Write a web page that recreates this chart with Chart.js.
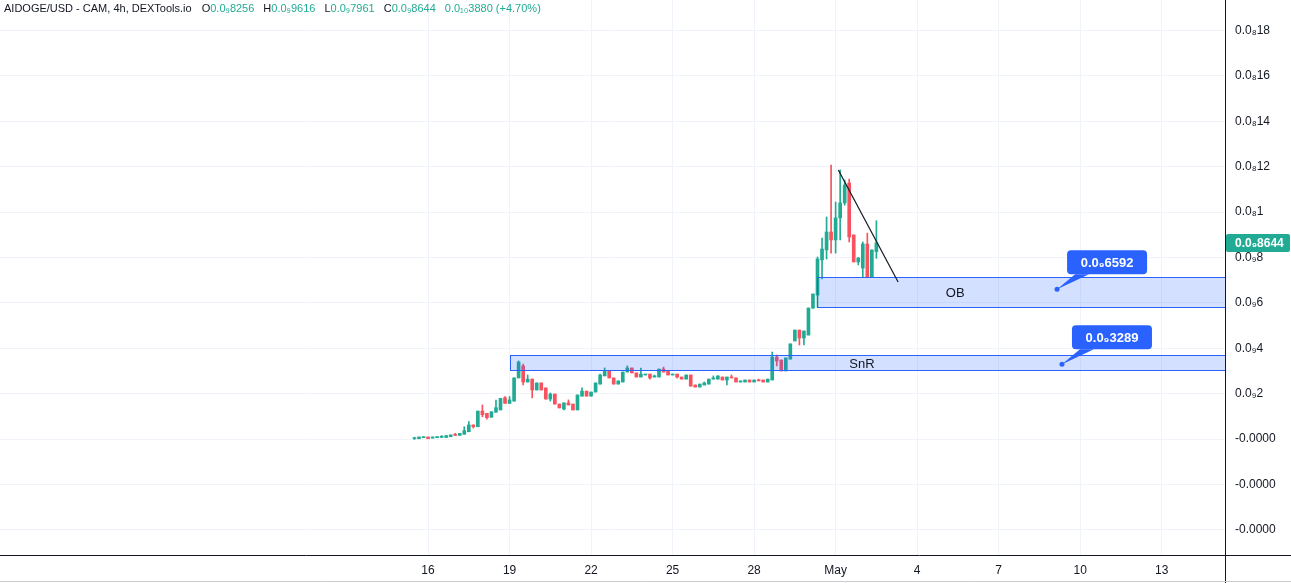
<!DOCTYPE html>
<html>
<head>
<meta charset="utf-8">
<script src="https://cdn.jsdelivr.net/npm/chart.js@4.4.0/dist/chart.umd.min.js"></script>
<style>
  html, body { margin: 0; padding: 0; background: #fff; }
  #wrap { position: relative; width: 1291px; height: 583px; }
  #legend {
    position: absolute; left: 4px; top: 1px;
    font: 11px "Liberation Sans", "DejaVu Sans", sans-serif;
    color: #131722; white-space: nowrap; line-height: 14px;
  }
  #legend .v { color: #22ab94; margin-right: 9px; }
  #legend .name { margin-right: 10px; }
</style>
</head>
<body>
<div id="wrap">
  <canvas id="chart" width="1291" height="583"></canvas>
  <div id="legend"><span class="name">AIDOGE/USD - CAM, 4h, DEXTools.io</span>O<span class="v">0.0₉8256</span>H<span class="v">0.0₉9616</span>L<span class="v">0.0₉7961</span>C<span class="v">0.0₉8644</span><span class="v">0.0₁₀3880 (+4.70%)</span></div>
</div>
<script>
// prices are in units of 1e-10 USD (so 8 = 0.0₉8)
// time axis: days since Apr 1 00:00, 4h candles, first one Apr 15 12:00
const firstCandleDay = 14.5;

const opens = [
  0.00, 0.01, 0.06, 0.09, 0.04, 0.06, 0.07, 0.07, 0.10, 0.21,
  0.16, 0.21, 0.32, 0.62, 0.54, 1.23, 1.13, 0.96, 1.18, 1.28,
  1.82, 1.57, 1.67, 2.69, 3.22, 2.51, 2.64, 2.16, 2.47, 2.25,
  1.76, 1.98, 1.54, 1.32, 1.59, 1.54, 1.28, 1.89, 2.11, 1.89,
  2.07, 2.42, 2.78, 3.00, 2.69, 2.42, 2.51, 2.95, 3.13, 2.91,
  2.73, 2.82, 2.86, 2.73, 2.73, 3.08, 3.00, 2.82, 2.86, 2.73,
  2.64, 2.82, 2.38, 2.29, 2.38, 2.42, 2.64, 2.64, 2.73, 2.60,
  2.73, 2.69, 2.51, 2.51, 2.60, 2.51, 2.60, 2.60, 2.51, 2.60,
  3.61, 3.48, 3.00, 3.52, 4.32, 4.80, 4.45, 4.58, 5.77, 6.34,
  7.89, 8.33, 9.12, 8.77, 9.74, 10.40, 11.28, 8.99, 7.80, 7.53,
  8.59, 7.14, 8.256
];
const highs = [
  0.08, 0.09, 0.09, 0.09, 0.09, 0.10, 0.15, 0.15, 0.18, 0.25,
  0.25, 0.54, 0.77, 0.62, 1.23, 1.50, 1.13, 1.20, 1.72, 1.79,
  1.87, 1.87, 2.69, 3.44, 3.30, 2.82, 2.64, 2.47, 2.47, 2.25,
  2.03, 1.98, 1.54, 1.59, 1.72, 1.54, 1.94, 2.25, 2.11, 2.07,
  2.47, 2.86, 3.13, 3.00, 2.69, 2.56, 2.95, 3.22, 3.13, 2.91,
  3.13, 2.86, 2.86, 2.82, 3.08, 3.17, 3.00, 2.86, 2.86, 2.73,
  2.82, 2.82, 2.38, 2.42, 2.51, 2.64, 2.78, 2.78, 2.73, 2.73,
  2.82, 2.69, 2.56, 2.60, 2.60, 2.60, 2.64, 2.60, 2.64, 3.83,
  3.70, 3.48, 3.57, 4.19, 4.80, 4.80, 4.76, 5.77, 6.39, 8.02,
  8.85, 9.78, 12.07, 10.44, 11.85, 11.41, 11.45, 8.99, 8.00, 8.68,
  9.07, 8.33, 9.616
];
const lows = [
  -0.02, 0.01, 0.06, 0.01, 0.04, 0.06, 0.07, 0.07, 0.10, 0.16,
  0.16, 0.21, 0.32, 0.48, 0.54, 0.98, 0.87, 0.96, 1.18, 1.28,
  1.57, 1.57, 1.67, 2.69, 2.38, 2.51, 1.81, 2.16, 2.16, 1.76,
  1.67, 1.54, 1.37, 1.28, 1.50, 1.28, 1.28, 1.89, 1.89, 1.89,
  2.07, 2.42, 2.78, 2.69, 2.42, 2.42, 2.51, 2.95, 2.91, 2.73,
  2.73, 2.82, 2.64, 2.73, 2.73, 2.95, 2.82, 2.82, 2.69, 2.64,
  2.64, 2.33, 2.29, 2.29, 2.38, 2.42, 2.64, 2.64, 2.60, 2.38,
  2.69, 2.51, 2.51, 2.51, 2.51, 2.51, 2.56, 2.51, 2.51, 2.60,
  3.22, 3.00, 3.00, 3.52, 4.32, 4.14, 4.14, 4.58, 5.75, 5.81,
  7.05, 7.93, 8.19, 8.19, 8.77, 10.30, 8.68, 7.80, 7.67, 7.14,
  7.14, 7.14, 7.961
];
const closes = [
  0.06, 0.09, 0.09, 0.01, 0.09, 0.10, 0.12, 0.15, 0.18, 0.16,
  0.25, 0.37, 0.62, 0.54, 1.23, 1.07, 0.94, 1.20, 1.38, 1.79,
  1.57, 1.72, 2.69, 3.39, 2.51, 2.64, 2.16, 2.47, 2.16, 1.76,
  1.98, 1.54, 1.37, 1.59, 1.50, 1.28, 1.94, 2.11, 1.89, 2.07,
  2.47, 2.82, 3.00, 2.69, 2.42, 2.56, 2.95, 3.13, 2.91, 2.73,
  2.86, 2.86, 2.69, 2.78, 3.08, 2.95, 2.82, 2.86, 2.73, 2.64,
  2.82, 2.33, 2.29, 2.42, 2.47, 2.64, 2.69, 2.78, 2.60, 2.73,
  2.69, 2.51, 2.56, 2.60, 2.51, 2.60, 2.56, 2.51, 2.64, 3.61,
  3.44, 3.00, 3.57, 4.19, 4.80, 4.45, 4.76, 5.77, 6.39, 7.93,
  8.37, 9.12, 8.77, 9.74, 10.40, 11.19, 8.90, 7.80, 7.97, 8.59,
  7.14, 8.33, 8.644
];

// axis ticks
const xTickDays = [15, 18, 21, 24, 27, 30, 33, 36, 39, 42];
const xTickLabels = ['16', '19', '22', '25', '28', 'May', '4', '7', '10', '13'];
const yTickValues = [-4, -2, 0, 2, 4, 6, 8, 10, 12, 14, 16, 18];

// drawings
const zoneNames = ['SnR', 'OB'];
const zoneStartDays = [18.0, 29.33];
const zoneTops = [3.70, 7.14];
const zoneBottoms = [3.04, 5.81];
const zoneLabelDays = [30.97, 34.4];

const calloutDays = [38.15, 38.33];
const calloutPrices = [6.592, 3.289];
const calloutTexts = ['0.0₉6592', '0.0₉3289'];

const trendDays = [30.1, 32.3];
const trendPrices = [11.85, 6.92];

const lastPriceText = '0.0₉8644';

const GREEN = '#22ab94';
const RED = '#f7525f';
const BLUE = '#2962ff';
const FONT = '"Liberation Sans", "DejaVu Sans", sans-serif';

const candleX = opens.map((_, i) => firstCandleDay + i * 4 / 24);
const candleColors = opens.map((o, i) => closes[i] >= o ? GREEN : RED);

function yLabel(v) {
  if (v <= 0) return '-0.0000';
  if (v < 10) return '0.0₉' + v;
  return '0.0₈' + String(v / 10).replace('.', '');
}

const overlay = {
  id: 'overlay',
  afterDatasetsDraw(chart) {
    const { ctx, chartArea: a, scales: { x, y } } = chart;
    ctx.save();
    ctx.beginPath();
    ctx.rect(a.left, a.top, a.right - a.left, a.bottom - a.top);
    ctx.clip();

    // zones
    zoneNames.forEach((name, i) => {
      const x0 = Math.round(x.getPixelForValue(zoneStartDays[i])) + 0.5;
      const x1 = a.right + 2;
      const y0 = Math.round(y.getPixelForValue(zoneTops[i])) + 0.5;
      const y1 = Math.round(y.getPixelForValue(zoneBottoms[i])) + 0.5;
      ctx.fillStyle = 'rgba(41,98,255,0.2)';
      ctx.fillRect(x0, y0, x1 - x0, y1 - y0);
      ctx.strokeStyle = BLUE;
      ctx.lineWidth = 1;
      ctx.strokeRect(x0, y0, x1 - x0, y1 - y0);
      ctx.fillStyle = '#131722';
      ctx.font = '13px ' + FONT;
      ctx.textAlign = 'center';
      ctx.textBaseline = 'middle';
      ctx.fillText(name, x.getPixelForValue(zoneLabelDays[i]), (y0 + y1) / 2 + 1);
    });

    // trend line
    ctx.strokeStyle = '#131722';
    ctx.lineWidth = 1.2;
    ctx.beginPath();
    ctx.moveTo(x.getPixelForValue(trendDays[0]), y.getPixelForValue(trendPrices[0]));
    ctx.lineTo(x.getPixelForValue(trendDays[1]), y.getPixelForValue(trendPrices[1]));
    ctx.stroke();

    // price callouts
    calloutDays.forEach((d, i) => {
      const px = x.getPixelForValue(d);
      const py = y.getPixelForValue(calloutPrices[i]);
      const rx = px + 10, rb = py - 15, rw = 80, rh = 24;
      ctx.fillStyle = BLUE;
      ctx.beginPath();
      ctx.moveTo(px, py);
      ctx.lineTo(rx + 8, rb);
      ctx.lineTo(rx + 22, rb);
      ctx.closePath();
      ctx.fill();
      ctx.beginPath();
      ctx.roundRect(rx, rb - rh, rw, rh, 4);
      ctx.fill();
      ctx.beginPath();
      ctx.arc(px, py, 2.5, 0, Math.PI * 2);
      ctx.fill();
      ctx.fillStyle = '#fff';
      ctx.font = 'bold 13px ' + FONT;
      ctx.textAlign = 'center';
      ctx.textBaseline = 'middle';
      ctx.fillText(calloutTexts[i], rx + rw / 2, rb - rh / 2 + 1);
    });
    ctx.restore();

    // axis lines running out to the canvas edges
    ctx.save();
    ctx.strokeStyle = '#131722';
    ctx.lineWidth = 1;
    ctx.beginPath();
    ctx.moveTo(a.right + 0.5, a.bottom);
    ctx.lineTo(a.right + 0.5, chart.height);
    ctx.moveTo(a.right, a.bottom + 0.5);
    ctx.lineTo(chart.width, a.bottom + 0.5);
    ctx.stroke();
    ctx.strokeStyle = '#c9cbd0';
    ctx.beginPath();
    ctx.moveTo(0, chart.height - 1.5);
    ctx.lineTo(chart.width, chart.height - 1.5);
    ctx.stroke();

    // last price tag
    const lp = Math.round(y.getPixelForValue(closes[closes.length - 1]));
    ctx.fillStyle = GREEN;
    ctx.beginPath();
    ctx.roundRect(a.right + 1, lp - 9, 64, 18, 2);
    ctx.fill();
    ctx.fillStyle = '#fff';
    ctx.font = 'bold 12px ' + FONT;
    ctx.textAlign = 'left';
    ctx.textBaseline = 'middle';
    ctx.fillText(lastPriceText, a.right + 10, lp + 1);
    ctx.restore();
  }
};

new Chart(document.getElementById('chart'), {
  type: 'bar',
  data: {
    datasets: [
      {
        label: 'wick',
        data: candleX.map((d, i) => ({ x: d, y: [lows[i], highs[i]] })),
        backgroundColor: candleColors,
        barThickness: 1,
        grouped: false,
        order: 2
      },
      {
        label: 'body',
        data: candleX.map((d, i) => ({ x: d, y: [opens[i], closes[i]] })),
        backgroundColor: candleColors,
        barThickness: 3,
        minBarLength: 1,
        grouped: false,
        order: 1
      }
    ]
  },
  options: {
    responsive: false,
    animation: false,
    layout: { padding: 0 },
    plugins: { legend: { display: false }, tooltip: { enabled: false } },
    scales: {
      x: {
        type: 'linear',
        min: -0.753,
        max: 44.33,
        offset: false,
        grid: { color: '#f0f3fa', drawTicks: false, offset: false },
        border: { color: '#131722' },
        afterBuildTicks: s => { s.ticks = xTickDays.map(v => ({ value: v })); },
        afterFit: s => { s.height = 28; s.paddingLeft = 0; s.paddingRight = 0; },
        ticks: {
          padding: 8,
          maxRotation: 0,
          autoSkip: false,
          color: '#131722',
          font: { family: FONT, size: 12 },
          callback: v => xTickLabels[xTickDays.indexOf(v)]
        }
      },
      y: {
        position: 'right',
        min: -5.11,
        max: 19.34,
        grid: { color: '#f0f3fa', drawTicks: false },
        border: { color: '#131722' },
        afterBuildTicks: s => { s.ticks = yTickValues.map(v => ({ value: v })); },
        afterFit: s => { s.width = 66; s.paddingTop = 0; s.paddingBottom = 0; },
        ticks: {
          padding: 10,
          color: '#131722',
          font: { family: FONT, size: 12 },
          callback: v => yLabel(v)
        }
      }
    }
  },
  plugins: [overlay]
});
</script>
</body>
</html>
